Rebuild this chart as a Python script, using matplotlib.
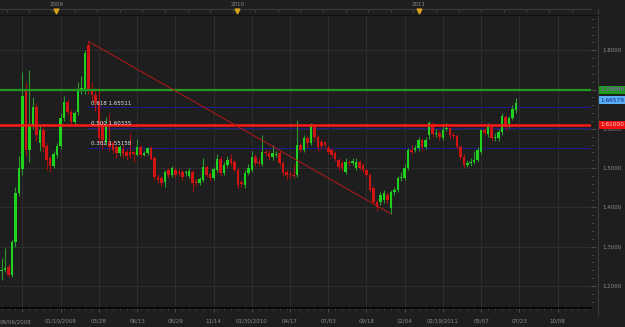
import numpy as np
import pandas as pd
import matplotlib
matplotlib.use('Agg')
import matplotlib.pyplot as plt
import matplotlib.transforms as mtransforms
from matplotlib.lines import Line2D

# weekly candles, first bar 09/13/2008
start = pd.Timestamp('2008-09-06')
week_dates = pd.date_range('2008-09-13', periods=149, freq='7D')

opens = [1.238, 1.241, 1.248, 1.228, 1.312, 1.437, 1.498, 1.699, 1.547, 1.610,
         1.656, 1.564, 1.597, 1.557, 1.526, 1.506, 1.534, 1.557, 1.628, 1.669,
         1.643, 1.618, 1.643, 1.699, 1.700, 1.814, 1.700, 1.686, 1.668, 1.610,
         1.567, 1.567, 1.564, 1.554, 1.539, 1.550, 1.541, 1.540, 1.540, 1.534,
         1.554, 1.534, 1.539, 1.552, 1.526, 1.478, 1.475, 1.465, 1.496, 1.483,
         1.496, 1.490, 1.490, 1.488, 1.480, 1.490, 1.468, 1.462, 1.470, 1.503,
         1.485, 1.475, 1.496, 1.524, 1.488, 1.508, 1.524, 1.516, 1.496, 1.465,
         1.457, 1.488, 1.496, 1.529, 1.516, 1.511, 1.541, 1.539, 1.529, 1.534,
         1.539, 1.513, 1.490, 1.485, 1.483, 1.483, 1.559, 1.547, 1.577, 1.564,
         1.608, 1.580, 1.567, 1.567, 1.552, 1.547, 1.539, 1.521, 1.513, 1.490,
         1.516, 1.513, 1.501, 1.516, 1.508, 1.496, 1.483, 1.450, 1.414, 1.414,
         1.419, 1.432, 1.399, 1.440, 1.445, 1.475, 1.475, 1.501, 1.547, 1.547,
         1.552, 1.572, 1.554, 1.585, 1.613, 1.587, 1.590, 1.577, 1.600, 1.603,
         1.585, 1.582, 1.554, 1.529, 1.508, 1.513, 1.516, 1.521, 1.541, 1.597,
         1.587, 1.605, 1.577, 1.577, 1.592, 1.631, 1.613, 1.628, 1.648]
closes = [1.242, 1.246, 1.228, 1.312, 1.437, 1.501, 1.684, 1.547, 1.610, 1.656,
          1.585, 1.597, 1.554, 1.521, 1.506, 1.536, 1.557, 1.628, 1.669, 1.643,
          1.618, 1.641, 1.699, 1.705, 1.794, 1.700, 1.686, 1.665, 1.577, 1.572,
          1.610, 1.554, 1.546, 1.539, 1.554, 1.535, 1.531, 1.533, 1.535, 1.554,
          1.534, 1.539, 1.552, 1.524, 1.478, 1.470, 1.462, 1.490, 1.483, 1.501,
          1.483, 1.488, 1.478, 1.490, 1.493, 1.462, 1.462, 1.473, 1.503, 1.483,
          1.475, 1.498, 1.524, 1.488, 1.508, 1.521, 1.513, 1.496, 1.457, 1.460,
          1.488, 1.501, 1.529, 1.513, 1.513, 1.541, 1.539, 1.529, 1.539, 1.536,
          1.513, 1.488, 1.483, 1.483, 1.481, 1.559, 1.547, 1.577, 1.564, 1.610,
          1.580, 1.554, 1.557, 1.559, 1.541, 1.534, 1.524, 1.503, 1.501, 1.516,
          1.513, 1.519, 1.516, 1.501, 1.496, 1.483, 1.445, 1.414, 1.401, 1.432,
          1.437, 1.419, 1.440, 1.445, 1.475, 1.478, 1.501, 1.547, 1.541, 1.552,
          1.572, 1.554, 1.572, 1.615, 1.587, 1.590, 1.580, 1.597, 1.603, 1.585,
          1.582, 1.554, 1.529, 1.508, 1.513, 1.516, 1.521, 1.547, 1.597, 1.590,
          1.605, 1.577, 1.580, 1.592, 1.633, 1.605, 1.628, 1.651, 1.66579]
highs = [1.271, 1.297, 1.255, 1.318, 1.452, 1.530, 1.745, 1.720, 1.750, 1.680,
         1.665, 1.610, 1.605, 1.565, 1.530, 1.545, 1.565, 1.640, 1.685, 1.675,
         1.650, 1.645, 1.720, 1.735, 1.800, 1.8227, 1.720, 1.705, 1.705, 1.620,
         1.630, 1.640, 1.570, 1.560, 1.560, 1.558, 1.548, 1.590, 1.545, 1.575,
         1.560, 1.545, 1.555, 1.556, 1.530, 1.485, 1.480, 1.495, 1.500, 1.505,
         1.502, 1.498, 1.495, 1.496, 1.500, 1.495, 1.473, 1.478, 1.525, 1.508,
         1.490, 1.502, 1.535, 1.530, 1.515, 1.530, 1.535, 1.520, 1.500, 1.470,
         1.495, 1.510, 1.545, 1.535, 1.525, 1.585, 1.550, 1.547, 1.560, 1.545,
         1.545, 1.518, 1.495, 1.492, 1.510, 1.623, 1.565, 1.585, 1.582, 1.615,
         1.612, 1.585, 1.575, 1.570, 1.558, 1.552, 1.545, 1.525, 1.520, 1.525,
         1.520, 1.525, 1.525, 1.522, 1.513, 1.500, 1.488, 1.455, 1.420, 1.440,
         1.445, 1.440, 1.445, 1.452, 1.480, 1.490, 1.510, 1.552, 1.560, 1.560,
         1.580, 1.578, 1.580, 1.620, 1.618, 1.600, 1.597, 1.612, 1.615, 1.608,
         1.592, 1.588, 1.560, 1.535, 1.520, 1.525, 1.545, 1.555, 1.600, 1.605,
         1.615, 1.610, 1.590, 1.600, 1.640, 1.636, 1.632, 1.660, 1.678]
lows = [1.215, 1.236, 1.222, 1.222, 1.300, 1.430, 1.483, 1.530, 1.516, 1.600,
        1.570, 1.545, 1.540, 1.496, 1.490, 1.500, 1.525, 1.550, 1.620, 1.635,
        1.608, 1.610, 1.635, 1.690, 1.690, 1.690, 1.670, 1.645, 1.565, 1.550,
        1.560, 1.545, 1.538, 1.525, 1.530, 1.525, 1.522, 1.525, 1.515, 1.530,
        1.528, 1.530, 1.534, 1.520, 1.470, 1.462, 1.455, 1.452, 1.475, 1.478,
        1.478, 1.480, 1.470, 1.480, 1.475, 1.440, 1.455, 1.458, 1.465, 1.478,
        1.468, 1.470, 1.490, 1.480, 1.482, 1.503, 1.505, 1.490, 1.450, 1.452,
        1.450, 1.483, 1.490, 1.505, 1.505, 1.505, 1.530, 1.522, 1.522, 1.528,
        1.505, 1.480, 1.470, 1.475, 1.475, 1.478, 1.540, 1.540, 1.555, 1.558,
        1.570, 1.545, 1.550, 1.552, 1.535, 1.528, 1.518, 1.495, 1.494, 1.485,
        1.505, 1.508, 1.495, 1.495, 1.488, 1.478, 1.440, 1.408, 1.392, 1.405,
        1.412, 1.410, 1.384, 1.432, 1.440, 1.468, 1.470, 1.495, 1.535, 1.540,
        1.545, 1.545, 1.548, 1.575, 1.580, 1.580, 1.572, 1.572, 1.595, 1.578,
        1.575, 1.548, 1.520, 1.500, 1.502, 1.505, 1.510, 1.515, 1.535, 1.585,
        1.580, 1.570, 1.570, 1.570, 1.585, 1.598, 1.603, 1.622, 1.640]

# drawn objects
trend_dates = [pd.Timestamp('2009-03-07'), pd.Timestamp('2010-11-06')]
trend_prices = [1.82272, 1.38398]
fib_ratios = ['0.618', '0.500', '0.382']
fib_prices = [1.65511, 1.60335, 1.55158]
support_price = 1.61000
resist_price = 1.70000
last_price = 1.66579
years = ['2009', '2010', '2011']

BG = '#1e1e1e'
TXT = '#8c8c8c'

def wk(d):
    return (pd.DatetimeIndex(d) - start).days.values / 7.0

x = wk(week_dates)
o = np.array(opens); c = np.array(closes)
h = np.array(highs); l = np.array(lows)
up = c >= o

fig = plt.figure(figsize=(6.25, 3.27), dpi=100, facecolor=BG)
ax = fig.add_axes([0, 19 / 327, 591 / 625, 293 / 327], facecolor=BG)

ax.set_xlim(0.55, 170.6)
ax.set_ylim(1.144, 1.890)

# grid
tick_dates = pd.date_range('2008-10-25', periods=15, freq='77D')
ax.set_xticks(wk(tick_dates))
labels = []
prev_year = None
for k, d in enumerate(tick_dates):
    if k == 0:
        labels.append('')
    elif d.year != prev_year:
        labels.append(d.strftime('%m/%d/%Y'))
    else:
        labels.append(d.strftime('%m/%d'))
    prev_year = d.year
ax.set_xticklabels(labels)
ax.set_xticks(np.arange(1, 171, 2), minor=True)
yt = np.arange(1.2, 1.81, 0.1)
ax.set_yticks(yt)
# the 1.7000 label sits under the green price tag
ax.set_yticklabels(['' if abs(v - resist_price) < 1e-6 else '%.4f' % v for v in yt])
ax.set_yticks(np.arange(1.16, 1.89, 0.02), minor=True)
ax.yaxis.tick_right()
ax.grid(True, which='major', color='#2e2e2e', lw=0.7)
ax.tick_params(axis='both', which='both', colors='#4a4a4a', labelcolor=TXT,
               labelsize=4, direction='out')
ax.tick_params(axis='x', which='major', length=3, pad=4.5)
ax.tick_params(axis='x', which='minor', length=1.5)
ax.tick_params(axis='y', which='major', length=3.5, pad=5)
ax.tick_params(axis='y', which='minor', length=2)
for s in ['left', 'right', 'top']:
    ax.spines[s].set_visible(False)
ax.spines['bottom'].set_color('#050505')
ax.spines['bottom'].set_linewidth(1.2)
ax.set_axisbelow(True)

ax.text(0, -14 / 293, '09/06/2008', transform=ax.transAxes, ha='left',
        va='center', fontsize=4, color=TXT)

# candles
ax.vlines(x[up], l[up], h[up], color='#2a9a2a', lw=0.8, zorder=3)
ax.vlines(x[~up], l[~up], h[~up], color='#a81010', lw=0.8, zorder=3)
body = np.maximum(np.abs(c - o), 0.0025)
ax.bar(x[up], body[up], bottom=np.minimum(o, c)[up], width=0.72,
       color='#1ed21e', zorder=4)
ax.bar(x[~up], body[~up], bottom=np.minimum(o, c)[~up], width=0.72,
       color='#d01414', zorder=4)

# horizontal levels
ax.axhline(resist_price, color='#229a22', lw=1.6, zorder=5)
ax.axhline(support_price, color='#ff1a1a', lw=1.8, zorder=5)
fx = wk(trend_dates)
for r, p in zip(fib_ratios, fib_prices):
    ax.plot([fx[0], 170.6], [p, p], color='#1c1c86', lw=0.8, zorder=2)
    ax.annotate('%s %.5f' % (r, p), (fx[0] + 0.6, p), xytext=(0, 1.2),
                textcoords='offset points', ha='left', va='bottom',
                fontsize=4, color='#e6e6e6', zorder=6)

ax.plot(fx, trend_prices, color='#b81818', lw=0.7, zorder=6)

# price tags on the right scale
tr = mtransforms.blended_transform_factory(ax.transAxes, ax.transData)
tags = [(resist_price, '#1e9a1e', '#b83cff', 0),
        (last_price, '#5ab0f5', '#10208a', 2.2),
        (support_price, '#ee1010', '#f5d0d0', 0)]
for p, fc, tc, dy in tags:
    ax.annotate('%.5f' % p, (1 + 9 / 591, p), xycoords=tr, xytext=(0, dy),
                textcoords='offset points', ha='left', va='center',
                fontsize=4.2, color=tc, annotation_clip=False, zorder=10,
                bbox=dict(boxstyle='square,pad=0.25', fc=fc, ec='none'))

# top year strip
sec = ax.secondary_xaxis(1 + 6 / 293)
yx = wk(pd.to_datetime([y + '-01-01' for y in years]))
sec.set_xticks(yx)
sec.set_xticklabels(years)
sec.set_xticks(np.arange(2.5, 171, 6.5), minor=True)
sec.tick_params(which='major', length=0, pad=1.5, labelsize=4, labelcolor=TXT)
sec.tick_params(which='minor', length=2.2, direction='in', colors='#4a4a4a')
sec.spines['top'].set_color('#3a3a3a')
sec.spines['top'].set_linewidth(0.8)
ytr = mtransforms.blended_transform_factory(ax.transData, ax.transAxes)
ax.plot(yx, [1 + 4 / 293] * len(yx), 'v', color='#d9a21a', ms=3.5,
        transform=ytr, clip_on=False, zorder=10)

# frame line right of the plot
fig.add_artist(Line2D([598 / 625, 598 / 625], [12 / 327, 318 / 327],
                      color='#3a3a3a', lw=0.8))
fig.add_artist(Line2D([0, 598 / 625], [312 / 327, 312 / 327],
                      color='#111111', lw=0.8))

fig.savefig('out.png', dpi=100, facecolor=BG)
